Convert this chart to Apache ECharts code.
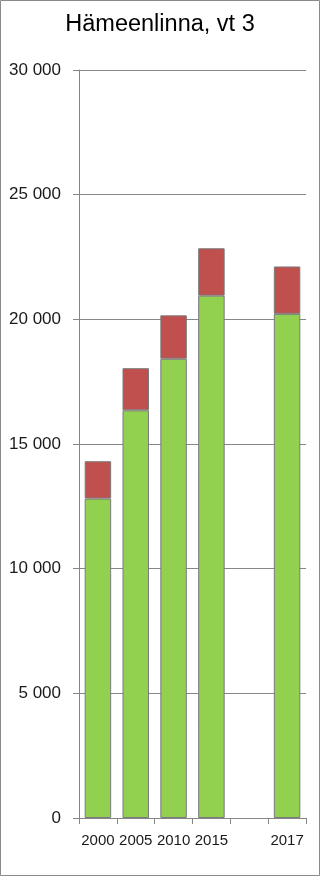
<!DOCTYPE html>
<html>
<head>
<meta charset="utf-8">
<script src="https://cdn.jsdelivr.net/npm/echarts@6/dist/echarts.min.js"></script>
<style>
html,body{margin:0;padding:0;background:#fff;}
#chart{width:320px;height:876px;}
</style>
</head>
<body>
<div id="chart"></div>
<script>
const titleText = 'Hämeenlinna, vt 3';
const categories = ['2000', '2005', '2010', '2015', '', '2017'];
const greenValues = [12810, 16350, 18420, 20950, null, 20220];
const redValues = [1500, 1690, 1740, 1900, null, 1900];
const yTicks = [0, 5000, 10000, 15000, 20000, 25000, 30000];

const chart = echarts.init(document.getElementById('chart'), null, {renderer: 'canvas'});
const fmt = v => String(v).replace(/\B(?=(\d{3})+(?!\d))/g, ' ');
chart.setOption({
  animation: false,
  backgroundColor: '#fff',
  title: {
    text: titleText,
    left: 'center',
    top: 8,
    textStyle: {fontFamily: 'Liberation Sans', fontSize: 23.5, fontWeight: 'normal', color: '#000'}
  },
  graphic: [{
    type: 'rect', shape: {x: 0.5, y: 0.5, width: 319, height: 875},
    style: {fill: 'none', stroke: '#8a8a8a', lineWidth: 1}, silent: true
  }],
  grid: {left: 79, right: 14, top: 70, bottom: 58, containLabel: false},
  xAxis: {
    type: 'category',
    data: categories,
    axisLine: {lineStyle: {color: '#868686', width: 1}},
    axisTick: {show: true, length: 6, lineStyle: {color: '#868686'}},
    axisLabel: {fontFamily: 'Liberation Sans', fontSize: 15, color: '#1a1a1a', margin: 15, interval: 0}
  },
  yAxis: {
    type: 'value',
    min: yTicks[0],
    max: yTicks[yTicks.length - 1],
    interval: 5000,
    axisLine: {show: true, lineStyle: {color: '#868686', width: 1}},
    axisTick: {show: true, length: 6, inside: false, lineStyle: {color: '#868686'}},
    splitLine: {show: true, lineStyle: {color: '#868686', width: 1}},
    axisLabel: {fontFamily: 'Liberation Sans', fontSize: 17, color: '#1a1a1a', margin: 18, formatter: fmt}
  },
  series: [
    {
      type: 'bar', stack: 'a', data: greenValues, barCategoryGap: '30%',
      itemStyle: {color: '#92D050', borderColor: '#7a7a7a', borderWidth: 1}
    },
    {
      type: 'bar', stack: 'a', data: redValues, barCategoryGap: '30%',
      itemStyle: {color: '#C0504D', borderColor: '#7a7a7a', borderWidth: 1}
    }
  ]
});
</script>
</body>
</html>
